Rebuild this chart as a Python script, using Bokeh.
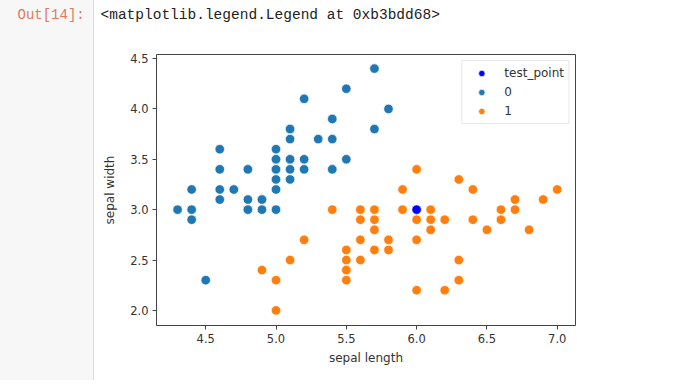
from bokeh.plotting import figure
from bokeh.layouts import column
from bokeh.models import Range1d, FixedTicker, Legend, LegendItem
from bokeh.core.properties import value
from bokeh.embed import file_html
from bokeh.resources import INLINE

# Class 0 (setosa): sepal length / sepal width
x0 = [5.1, 4.9, 4.7, 4.6, 5.0, 5.4, 4.6, 5.0, 4.4, 4.9, 5.4, 4.8, 4.8, 4.3, 5.8, 5.7, 5.4, 5.1, 5.7, 5.1,
      5.4, 5.1, 4.6, 5.1, 4.8, 5.0, 5.0, 5.2, 5.2, 4.7, 4.8, 5.4, 5.2, 5.5, 4.9, 5.0, 5.5, 4.9, 4.4, 5.1,
      5.0, 4.5, 4.4, 5.0, 5.1, 4.8, 5.1, 4.6, 5.3, 5.0]
y0 = [3.5, 3.0, 3.2, 3.1, 3.6, 3.9, 3.4, 3.4, 2.9, 3.1, 3.7, 3.4, 3.0, 3.0, 4.0, 4.4, 3.9, 3.5, 3.8, 3.8,
      3.4, 3.7, 3.6, 3.3, 3.4, 3.0, 3.4, 3.5, 3.4, 3.2, 3.1, 3.4, 4.1, 4.2, 3.1, 3.2, 3.5, 3.1, 3.0, 3.4,
      3.5, 2.3, 3.2, 3.5, 3.8, 3.0, 3.8, 3.2, 3.7, 3.3]
# Class 1 (versicolor)
x1 = [7.0, 6.4, 6.9, 5.5, 6.5, 5.7, 6.3, 4.9, 6.6, 5.2, 5.0, 5.9, 6.0, 6.1, 5.6, 6.7, 5.6, 5.8, 6.2, 5.6,
      5.9, 6.1, 6.3, 6.1, 6.4, 6.6, 6.8, 6.7, 6.0, 5.7, 5.5, 5.5, 5.8, 6.0, 5.4, 6.0, 6.7, 6.3, 5.6, 5.5,
      5.5, 6.1, 5.8, 5.0, 5.6, 5.7, 5.7, 6.2, 5.1, 5.7]
y1 = [3.2, 3.2, 3.1, 2.3, 2.8, 2.8, 3.3, 2.4, 2.9, 2.7, 2.0, 3.0, 2.2, 2.9, 2.9, 3.1, 3.0, 2.7, 2.2, 2.5,
      3.2, 2.8, 2.5, 2.8, 2.9, 3.0, 2.8, 3.0, 2.9, 2.6, 2.4, 2.4, 2.7, 2.7, 3.0, 3.4, 3.1, 2.3, 3.0, 2.5,
      2.6, 3.0, 2.6, 2.3, 2.7, 3.0, 2.9, 2.9, 2.5, 2.8]
test_x = [6.0]
test_y = [3.0]

x_ticks = [4.5, 5.0, 5.5, 6.0, 6.5, 7.0]
x_tick_labels = ["4.5", "5.0", "5.5", "6.0", "6.5", "7.0"]
y_ticks = [2.0, 2.5, 3.0, 3.5, 4.0, 4.5]
y_tick_labels = ["2.0", "2.5", "3.0", "3.5", "4.0", "4.5"]

legend_labels = ["test_point", "0", "1"]
out_prompt = "Out[14]:"
out_text = "<matplotlib.legend.Legend at 0xb3bdd68>"

W = 690
BG = {"background": "linear-gradient(to right, #f7f7f7 0px, #f7f7f7 93px, #dadada 93px, #dadada 94px, #ffffff 94px)"}

# ---- header strip with the notebook output prompt ----
TH = 30
top = figure(width=W, height=TH, output_backend="svg", toolbar_location=None,
             x_range=Range1d(0, W), y_range=Range1d(0, TH),
             min_border=0, min_border_left=0, min_border_right=0, min_border_top=0, min_border_bottom=0)
top.axis.visible = False
top.grid.visible = False
top.outline_line_color = None
top.background_fill_alpha = 0
top.border_fill_alpha = 0
top.styles = BG
top.text(x=[17], y=[TH - 14], text=[out_prompt], text_font=value("Liberation Mono"),
         text_font_size="14px", text_color="#E07A5A", text_baseline="middle", text_align="left")
top.text(x=[100], y=[TH - 14], text=[out_text], text_font=value("Liberation Mono"),
         text_font_size="14.5px", text_color="#222222", text_baseline="middle", text_align="left")

# ---- main scatter ----
H = 350
p = figure(width=W, height=H, output_backend="svg", toolbar_location=None,
           x_range=Range1d(4.15, 7.13), y_range=Range1d(1.85, 4.54),
           min_border_left=156, min_border_right=115, min_border_top=24, min_border_bottom=55)
p.border_fill_alpha = 0
p.styles = BG
p.background_fill_color = "white"
p.outline_line_color = "#444444"
p.outline_line_width = 1
p.grid.visible = False

for fig in (top, p):
    try:
        fig.frame_align = False
    except Exception:
        pass

for ax in (p.xaxis[0], p.yaxis[0]):
    ax.axis_line_color = None
    ax.major_tick_line_color = "#444444"
    ax.major_tick_out = 4
    ax.major_tick_in = 0
    ax.minor_tick_line_color = None
    ax.major_label_text_font = "DejaVu Sans"
    ax.major_label_text_font_size = "11.5px"
    ax.major_label_text_color = "#333333"
    ax.axis_label_text_font = "DejaVu Sans"
    ax.axis_label_text_font_size = "12px"
    ax.axis_label_text_font_style = "normal"
    ax.axis_label_text_color = "#333333"

p.xaxis.ticker = FixedTicker(ticks=x_ticks)
p.yaxis.ticker = FixedTicker(ticks=y_ticks)
p.xaxis.major_label_overrides = dict(zip(x_ticks, x_tick_labels))
p.yaxis.major_label_overrides = dict(zip(y_ticks, y_tick_labels))
p.xaxis.axis_label = "sepal length"
p.yaxis.axis_label = "sepal width"
p.xaxis.major_label_standoff = 4
p.yaxis.major_label_standoff = 4
p.xaxis.axis_label_standoff = 5
p.yaxis.axis_label_standoff = 10

r0 = p.scatter(x0, y0, size=9.5, marker="circle", fill_color="#1f77b4", line_color="white", line_width=0.7)
r1 = p.scatter(x1, y1, size=9.5, marker="circle", fill_color="#ff7f0e", line_color="white", line_width=0.7)
rt = p.scatter(test_x, test_y, size=9.5, marker="circle", fill_color="#0000ff", line_color="white", line_width=0.7)

legend = Legend(items=[LegendItem(label=legend_labels[0], renderers=[rt]),
                       LegendItem(label=legend_labels[1], renderers=[r0]),
                       LegendItem(label=legend_labels[2], renderers=[r1])],
                location="top_right")
legend.margin = 6
legend.padding = 4
legend.spacing = 3
legend.label_height = 16
legend.glyph_height = 16
legend.glyph_width = 30
legend.label_standoff = 8
legend.label_text_font = "DejaVu Sans"
legend.label_text_font_size = "12px"
legend.label_text_color = "#333333"
legend.border_line_color = "#d0d0d0"
legend.border_line_width = 1
legend.background_fill_color = "white"
legend.background_fill_alpha = 0.8
p.add_layout(legend, "center")

layout = column(top, p, spacing=0)
layout.styles = BG
open("out.html", "w").write(file_html(layout, INLINE))
